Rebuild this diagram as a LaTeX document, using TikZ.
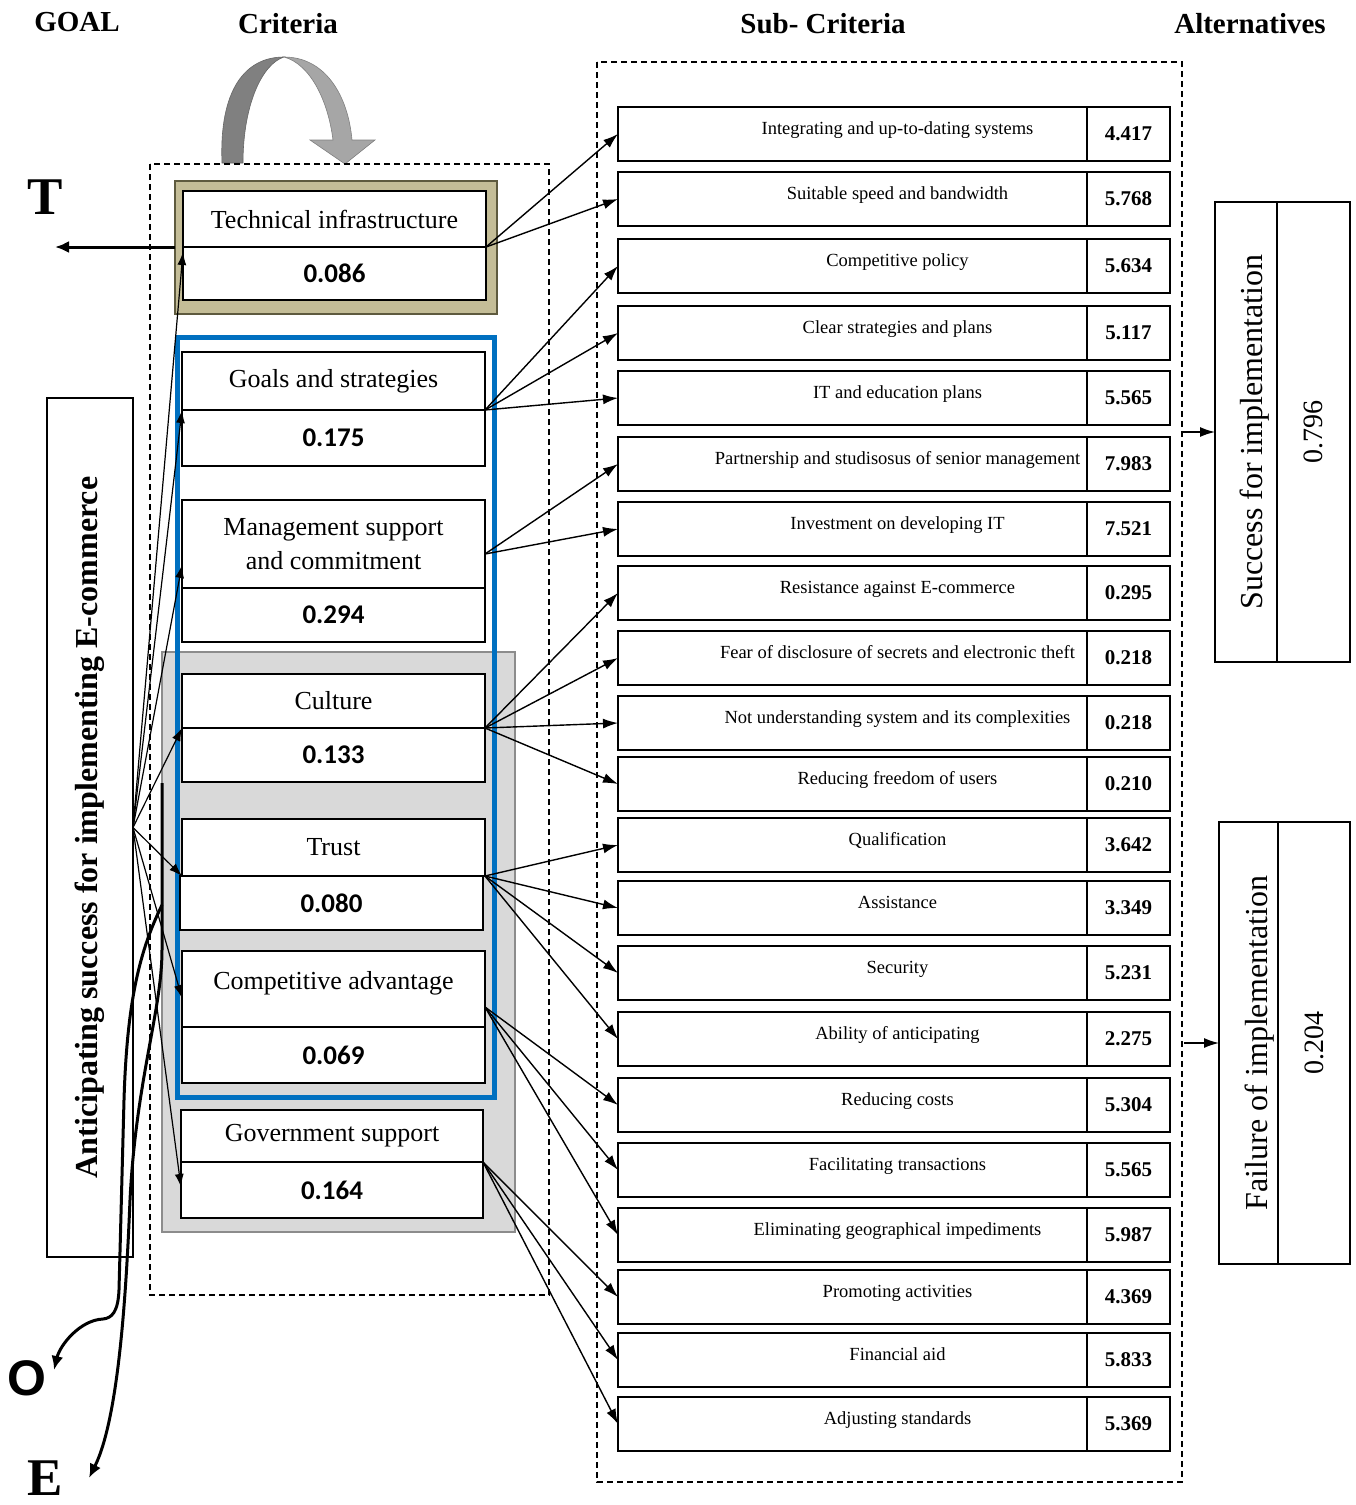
\documentclass[tikz,border=0pt]{standalone}
\usepackage{fontspec}
\setmainfont{Liberation Serif}
\newfontfamily\calib{Carlito}
\newfontfamily\arialf{Liberation Sans}
\usetikzlibrary{arrows.meta,calc}
\definecolor{tanfill}{HTML}{C4BD97}
\definecolor{tanedge}{HTML}{5E5A3E}
\definecolor{grayfill}{HTML}{D9D9D9}
\definecolor{grayedge}{HTML}{8C8C8C}
\definecolor{blueedge}{HTML}{0070C0}
\definecolor{arrdark}{HTML}{808080}
\definecolor{arrlight}{HTML}{A6A6A6}
\begin{document}
\begin{tikzpicture}[x=1pt,y=-1pt,
  every node/.style={inner sep=0pt, outer sep=0pt},
  cellbox/.style={draw=black, line width=1.6pt, fill=white, anchor=north west, minimum width=303pt},
  clabel/.style={font=\fontsize{26}{34}\selectfont, align=center},
  cval/.style={font=\calib\bfseries\fontsize{27}{30}\selectfont},
  subbox/.style={draw=black, line width=1.8pt, fill=white, anchor=north west, minimum width=469pt, minimum height=54pt, text height=6pt, text depth=6pt, font=\fontsize{18.5}{20}\selectfont},
  valbox/.style={draw=black, line width=1.8pt, fill=white, anchor=north west, minimum width=83pt, minimum height=54pt, font=\bfseries\fontsize{21}{24}\selectfont},
  conn/.style={line width=1.4pt, -{Latex[length=15pt,width=10pt]}},
  gconn/.style={line width=1.2pt, -{Latex[length=13pt,width=9pt]}},
  bigarrow/.style={line width=3pt, -{Latex[length=14pt,width=12pt]}},
  head/.style={font=\bfseries\fontsize{29}{32}\selectfont},
  letter/.style={font=\bfseries\fontsize{53}{56}\selectfont},
  altbox/.style={draw=black, line width=1.6pt, anchor=north west},
  dashbox/.style={draw=black, line width=1.3pt, dash pattern=on 6pt off 4pt}
]
\fill[white] (0,0) rectangle (1356,1505);
\useasboundingbox (0,0) rectangle (1356,1505);

% headers
\node[head] (hgoal) at (77,22) {GOAL};
\node[head] (hcrit) at (288,24) {Criteria};
\node[head] (hsub) at (823,24) {Sub- Criteria};
\node[head] (halt) at (1250,24) {Alternatives};

% curved grey arrow
\filldraw[fill=arrdark, draw=arrdark!80!black, line width=0.6pt] (222,163) .. controls (219,90) and (245,57) .. (284,57) .. controls (262,64) and (243,105) .. (243,163) -- cycle;
\filldraw[fill=arrlight, draw=arrdark, line width=0.6pt] (284,57) .. controls (325,57) and (348,95) .. (352,140) -- (375,140) -- (345,164) -- (310,140) -- (333,140) .. controls (328,100) and (310,64) .. (284,57) -- cycle;

% dashed group boxes
\draw[dashbox] (150,164) rectangle (549,1295);
\draw[dashbox] (597,62) rectangle (1182,1482);

% grey and blue groups
\draw[fill=grayfill, draw=grayedge, line width=2.5pt] (162,652) rectangle (515,1232);
\draw[draw=blueedge, line width=5pt] (177,337) rectangle (494,1097);

% technical frame
\node[draw=tanedge, fill=tanfill, line width=2.5pt, anchor=north west, minimum width=322pt, minimum height=133pt] (techframe) at (175,181) {};

% criteria
\node[cellbox, clabel, minimum height=56pt] (techU) at (183,191) {Technical infrastructure};
\node[cellbox, cval, minimum height=53pt] (techL) at (183,247) {0.086};
\node[cellbox, clabel, minimum height=58pt] (goalsU) at (182,352) {Goals and strategies};
\node[cellbox, cval, minimum height=56pt] (goalsL) at (182,410) {0.175};
\node[cellbox, clabel, minimum height=88pt] (mgmtU) at (182,500) {Management support\\and commitment};
\node[cellbox, cval, minimum height=54pt] (mgmtL) at (182,588) {0.294};
\node[cellbox, clabel, minimum height=54pt] (cultU) at (182,674) {Culture};
\node[cellbox, cval, minimum height=54pt] (cultL) at (182,728) {0.133};
\node[cellbox, clabel, minimum height=57pt] (trustU) at (182,819) {Trust};
\node[cellbox, cval, minimum height=54pt] (trustL) at (180,876) {0.080};
\node[cellbox, clabel, minimum height=76pt, text height=4pt, text depth=4pt] (compU) at (182,951) {Competitive advantage};
\node[cellbox, cval, minimum height=56pt] (compL) at (182,1027) {0.069};
\node[cellbox, clabel, minimum height=52pt, minimum width=302pt] (govU) at (181,1110) {Government support};
\node[cellbox, cval, minimum height=56pt, minimum width=302pt] (govL) at (181,1162) {0.164};

% goal
\node[draw=black, line width=1.3pt, anchor=north west, minimum width=86pt, minimum height=859pt] (goal) at (47,398) {\rotatebox{90}{\bfseries\fontsize{32}{36}\selectfont Anticipating success for implementing E-commerce}};

% sub-criteria
\foreach \i/\y/\t/\v in {
 1/107/Integrating and up-to-dating systems/4.417,
 2/172/Suitable speed and bandwidth/5.768,
 3/239/Competitive policy/5.634,
 4/306/Clear strategies and plans/5.117,
 5/371/IT and education plans/5.565,
 6/437/Partnership and studisosus of senior management/7.983,
 7/502/Investment on developing IT/7.521,
 8/566/Resistance against E-commerce/0.295,
 9/631/Fear of disclosure of secrets and electronic theft/0.218,
 10/696/Not understanding system and its complexities/0.218,
 11/757/Reducing freedom of users/0.210,
 12/818/Qualification/3.642,
 13/881/Assistance/3.349,
 14/946/Security/5.231,
 15/1012/Ability of anticipating/2.275,
 16/1078/Reducing costs/5.304,
 17/1143/Facilitating transactions/5.565,
 18/1208/Eliminating geographical impediments/5.987,
 19/1270/Promoting activities/4.369,
 20/1333/Financial aid/5.833,
 21/1397/Adjusting standards/5.369}{
  \node[subbox] (s\i) at (618,\y) {\hspace*{90pt}\t};
  \node[valbox] (v\i) at (s\i.north east) {\v};
}

% criteria -> sub-criteria
\foreach \k in {1,2} {\draw[conn] (techU.south east) -- (s\k.west);}
\foreach \k in {3,4,5} {\draw[conn] (goalsU.south east) -- (s\k.west);}
\foreach \k in {6,7} {\draw[conn] ([yshift=-10pt]mgmtU.east) -- (s\k.west);}
\foreach \k in {8,9,10,11} {\draw[conn] (cultU.south east) -- (s\k.west);}
\foreach \k in {12,13,14,15} {\draw[conn] (trustU.south east) -- (s\k.west);}
\foreach \k in {16,17,18} {\draw[conn] ([yshift=20pt]compU.south east) -- (s\k.west);}
\foreach \k in {19,20,21} {\draw[conn] (govU.south east) -- (s\k.west);}

% goal -> criteria
\draw[gconn] (goal.east) -- ([yshift=-5pt]techU.south west);
\draw[gconn] (goal.east) -- (goalsU.south west);
\draw[gconn] (goal.east) -- ([yshift=23pt]mgmtU.south west);
\draw[gconn] (goal.east) -- (cultU.south west);
\draw[gconn] (goal.east) -- (trustU.south west);
\draw[gconn] (goal.east) -- ([yshift=29pt]compU.south west);
\draw[gconn] (goal.east) -- ([yshift=-25pt]govU.south west);

% T, O, E
\node[letter] (T) at (45,197) {T};
\node[font=\arialf\bfseries\fontsize{50}{56}\selectfont] (O) at (27,1378) {O};
\node[letter] (E) at (45,1478) {E};
\coordinate (tend) at (55,247);
\draw[bigarrow] (techframe.west |- techU.south) -- (tend);
\coordinate (oestart) at (162,783);
\coordinate (oend) at (54,1370);
\coordinate (eend) at (89,1478);
\draw[bigarrow] (oestart) -- (162,950) .. controls (162,1010) and (136,1080) .. (130,1200) .. controls (126,1300) and (118,1420) .. (eend);
\draw[bigarrow] (162,905) .. controls (140,950) and (127,1000) .. (124,1100) -- (119,1290) .. controls (118,1312) and (112,1318) .. (103,1319) .. controls (80,1320) and (60,1345) .. (oend);

% alternatives
\node[altbox, minimum width=62pt, minimum height=460pt] (succA) at (1215,202) {};
\node[altbox, minimum width=73pt, minimum height=460pt] (succB) at (succA.north east) {};
\node[rotate=90, font=\fontsize{32}{36}\selectfont] (succT) at ([xshift=9pt]succA.center) {Success for implementation};
\node[rotate=90, font=\fontsize{28}{32}\selectfont] (succV) at (succB.center) {0.796};
\node[altbox, minimum width=59pt, minimum height=442pt] (failA) at (1219,822) {};
\node[altbox, minimum width=72pt, minimum height=442pt] (failB) at (failA.north east) {};
\node[rotate=90, font=\fontsize{32}{36}\selectfont] (failT) at ([xshift=11pt]failA.center) {Failure of implementation};
\node[rotate=90, font=\fontsize{28}{32}\selectfont] (failV) at (failB.center) {0.204};
\coordinate (sa) at (1182,432);
\coordinate (fa) at (1184,1043);
\draw[conn] (sa) -- (sa -| succA.west);
\draw[conn] (fa) -- (fa -| failA.west);
\end{tikzpicture}
\end{document}
